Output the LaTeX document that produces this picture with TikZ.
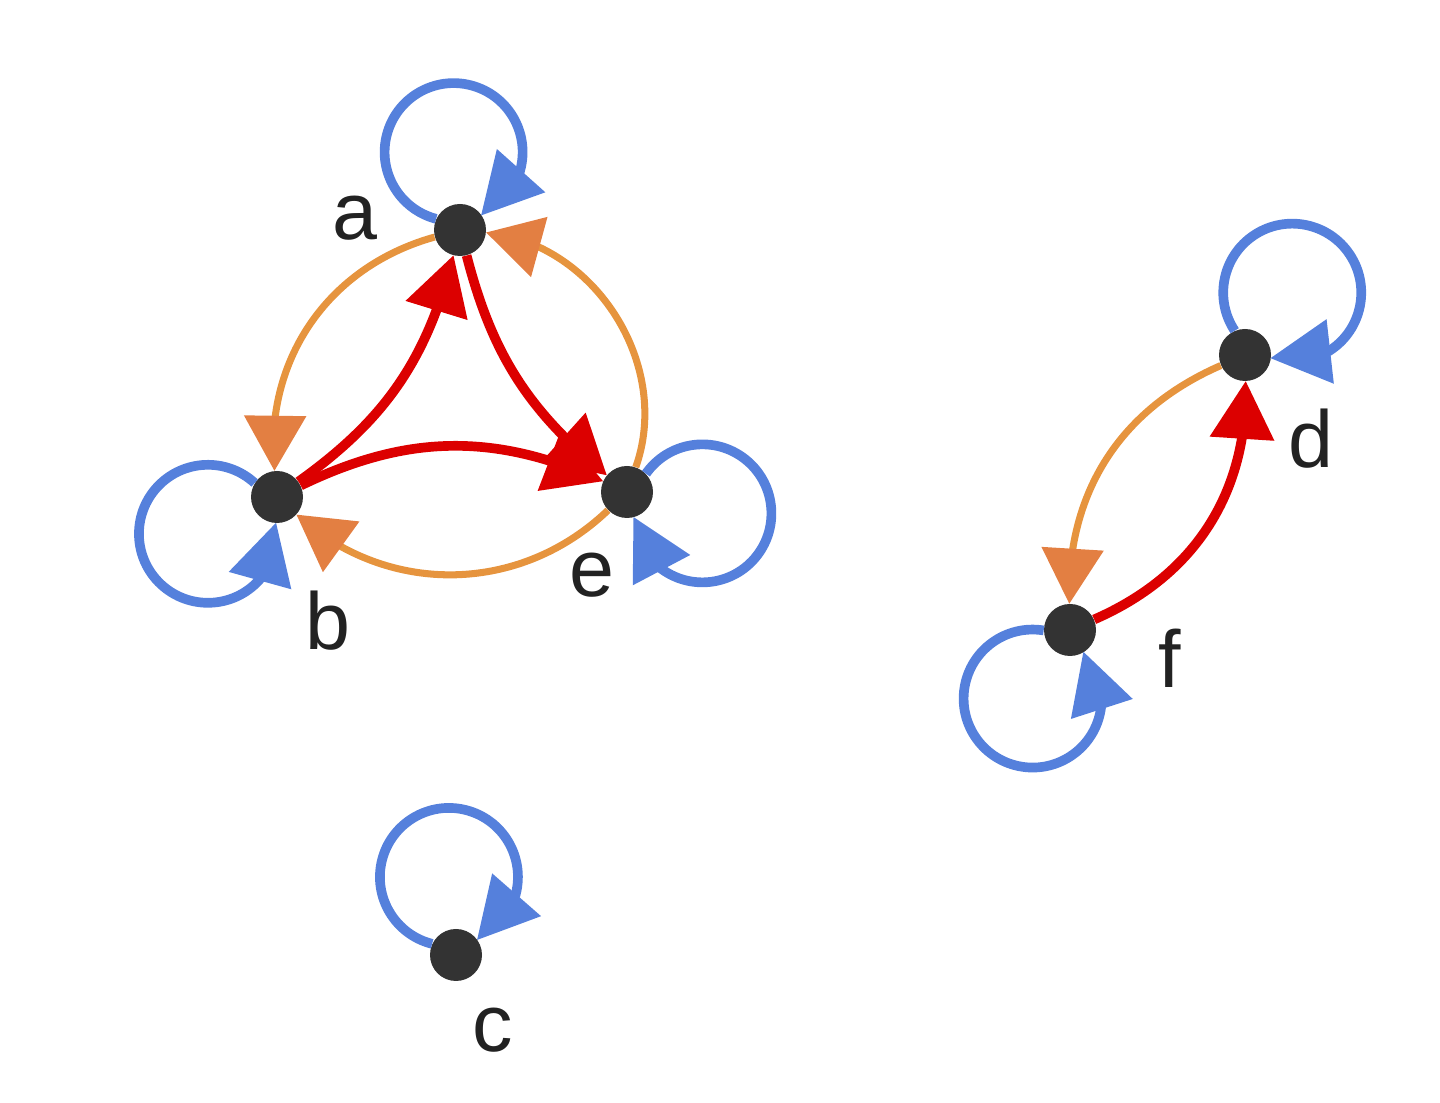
\documentclass[tikz,border=0pt]{standalone}
\usepackage{fontspec}
\setmainfont{Liberation Sans}
\usetikzlibrary{positioning,arrows.meta,bending}
\definecolor{loopc}{RGB}{85,128,220}
\definecolor{redc}{RGB}{220,0,0}
\definecolor{orl}{RGB}{230,148,62}
\definecolor{ort}{RGB}{227,127,66}
\definecolor{dot}{RGB}{51,51,51}
\definecolor{txt}{RGB}{34,34,34}
\tikzset{
  vert/.style={circle, fill=dot, inner sep=0pt, minimum size=1.04cm},
  lbl/.style={text=txt, font=\fontsize{46}{55}\selectfont, inner sep=0pt, anchor=base},
  loopa/.style={draw=loopc, line width=5.5pt, -{Triangle[length=1.2cm, width=1.3cm, line width=0pt, flex]}},
  fwd/.style={draw=redc, line width=5.5pt, -{Triangle[length=1.15cm, width=1.3cm, line width=0pt, flex]}},
  back/.style={draw=orl, line width=4pt, -{Triangle[length=1.1cm, width=1.25cm, line width=0pt, flex, color=ort, fill=ort]}},
}
\begin{document}
\begin{tikzpicture}
  \useasboundingbox (0,0) rectangle (28.8,22.06);
  % vertices
  \node[vert] (a) at (9.20,17.46) {};
  \node[vert] (b) at (5.54,12.12) {};
  \node[vert] (e) at (12.54,12.22) {};
  \node[vert] (c) at (9.12,2.96) {};
  \node[vert] (d) at (24.90,14.96) {};
  \node[vert] (f) at (21.40,9.46) {};
  % names
  \node[lbl] (la) at (7.10,17.26) {a};
  \node[lbl] (lb) at (6.56,9.06) {b};
  \node[lbl] (le) at (11.84,10.12) {e};
  \node[lbl] (lc) at (9.86,1.02) {c};
  \node[lbl] (ld) at (26.22,12.70) {d};
  \node[lbl] (lf) at (23.40,8.30) {f};
  % self loops
  \draw[loopa] (a.155) arc[start angle=255.3, end angle=-66.5, radius=1.38cm];
  \draw[loopa] (b.148) arc[start angle=47.4, end angle=369.2, radius=1.38cm];
  \draw[loopa] (e.44) arc[start angle=144.9, end angle=-176.9, radius=1.38cm];
  \draw[loopa] (c.155) arc[start angle=255.9, end angle=-65.9, radius=1.38cm];
  \draw[loopa] (d.113) arc[start angle=213.5, end angle=-108.3, radius=1.38cm];
  \draw[loopa] (f.181) arc[start angle=80.8, end angle=402.6, radius=1.38cm];
  % edges
  \draw[back] (a) to[bend right=40] (b);
  \draw[back] (e) to[bend right=52] (a);
  \draw[back] (e) to[bend left=43] (b);
  \draw[fwd] (b) to[bend right=20] (a);
  \draw[fwd] (a) to[bend right=18] (e);
  \draw[fwd] (b) to[bend left=25] (e);
  \draw[back] (d) to[bend right=34] (f);
  \draw[fwd] (f) to[bend right=34] (d);
\end{tikzpicture}
\end{document}
